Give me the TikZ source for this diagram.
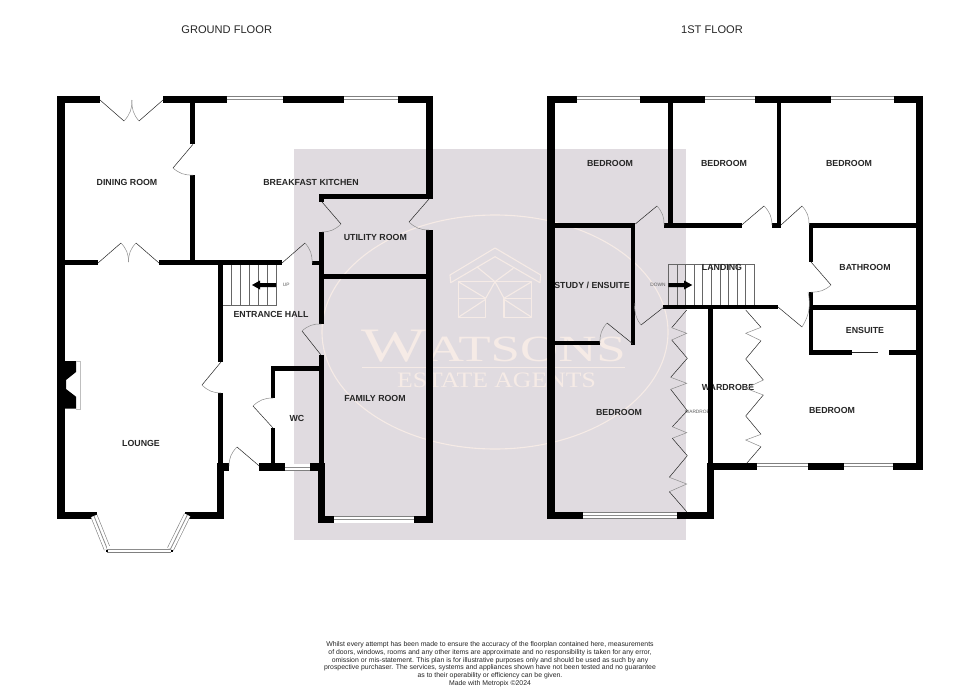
\documentclass[tikz,border=0pt]{standalone}
\usepackage{fontspec}
\setmainfont{Liberation Sans}
\newfontfamily\markfont{Liberation Serif}
\definecolor{markbg}{HTML}{E0DBE0}
\definecolor{markline}{HTML}{F6EBE6}
\tikzset{
	wall/.style={fill=black},
	leaf/.style={draw=black!85,line width=0.5pt},
	swing/.style={draw=black!45,line width=0.5pt},
	window/.style={preaction={draw=black!50,line width=7pt},preaction={draw=white,line width=5.8pt},draw=black!45,line width=0.8pt},
	tread/.style={draw=black!60,line width=0.5pt},
	room/.style={font=\fontsize{8.8}{9}\selectfont\bfseries,text=black!85,inner sep=0pt},
	title/.style={font=\fontsize{11.1}{12}\selectfont,text=black!85,inner sep=0pt},
	tiny/.style={font=\fontsize{4.8}{5}\selectfont,text=black!65,inner sep=0pt},
	logo/.style={draw=markline,line width=1.1pt,line join=round},
}
\newcommand{\door}[4]{\draw[leaf] (#1) -- (#2); \draw[swing] (#2) to[bend #4=22] (#3);}
\begin{document}
\begin{tikzpicture}[x=1pt,y=-1pt]
	\useasboundingbox (0,0) rectangle (980,688);
	\fill[white] (0,0) rectangle (980,688);
	\fill[markbg] (294,149) rectangle (686,540);
	\draw[logo] (495,332) ellipse (173 and 117);
	\draw[logo] (495,248) -- (540.7,275) -- (540,282.7) -- (495,256.7) -- (450.7,282.7) -- (450,275) -- cycle;
	\draw[logo] (458.3,281.7) -- (458.3,317.3) -- (485.7,317.3) -- (485.7,298.3) -- (458.3,298.3);
	\draw[logo] (458.3,281.7) -- (531.7,281.7) -- (531.7,317.3) -- (504,317.3) -- (504,298.3) -- (531.7,298.3);
	\draw[logo] (458.3,281.7) -- (485.7,298.3) -- (495,281.7) -- (504,298.3) -- (531.7,281.7);
	\draw[logo] (458.3,317.3) -- (485.7,299.3);
	\draw[logo] (531.7,317.3) -- (504,299.3);
	\draw[logo] (476.7,266.7) -- (495,281.7) -- (513.3,268.3);
	\node[text=markline,inner sep=0pt,anchor=base] (brand) at (493.5,361.7) {\markfont\scalebox{1.43}[1]{\fontsize{48}{48}\selectfont W\fontsize{37}{37}\selectfont ATSONS}};
	\draw[draw=markline,line width=0.5pt] (362,367.3) -- (625,367.3);
	\node[text=markline,inner sep=0pt,anchor=base] (agents) at (496.5,387) {\markfont\scalebox{1.17}[1]{\fontsize{22}{22}\selectfont ESTATE AGENTS}};

	\node[title] (ground) at (226.7,29.3) {GROUND FLOOR};
	\node[title] (first) at (712,29.3) {1ST FLOOR};

	\draw[tread] (222.7,265) -- (222.7,305) -- (276.7,305) -- (276.7,265);
	\draw[tread] (231.3,265) -- (231.3,305);
	\draw[tread] (240.3,265) -- (240.3,305);
	\draw[tread] (249.3,265) -- (249.3,305);
	\draw[tread] (258.3,265) -- (258.3,305);
	\draw[tread] (267.3,265) -- (267.3,305);
	\draw[tread] (668.3,305) -- (668.3,264.3) -- (754.3,264.3) -- (754.3,305);
	\draw[tread] (677,264.3) -- (677,305);
	\draw[tread] (685.7,264.3) -- (685.7,305);
	\draw[tread] (694,264.3) -- (694,305);
	\draw[tread] (702.7,264.3) -- (702.7,305);
	\draw[tread] (711.3,264.3) -- (711.3,305);
	\draw[tread] (720,264.3) -- (720,305);
	\draw[tread] (728.7,264.3) -- (728.7,305);
	\draw[tread] (737,264.3) -- (737,305);
	\draw[tread] (745.7,264.3) -- (745.7,305);
	\fill[wall] (276,283) -- (260,283) -- (260,280.5) -- (252,285) -- (260,289.5) -- (260,287) -- (276,287) -- cycle;
	\fill[wall] (668.3,283) -- (684,283) -- (684,280.5) -- (692.3,285) -- (684,289.5) -- (684,287) -- (668.3,287) -- cycle;

	\node[room] (dining) at (127,182) {DINING ROOM};
	\node[room] (kitchen) at (311,182) {BREAKFAST KITCHEN};
	\node[room] (utility) at (375.3,237) {UTILITY ROOM};
	\node[room] (hall) at (271,314) {ENTRANCE HALL};
	\node[room] (lounge) at (141,443) {LOUNGE};
	\node[room] (wc) at (297,418) {WC};
	\node[room] (family) at (375,398) {FAMILY ROOM};
	\node[room] (bedA) at (610,163) {BEDROOM};
	\node[room] (bedB) at (724,163) {BEDROOM};
	\node[room] (bedC) at (849,163) {BEDROOM};
	\node[room] (landing) at (722,267) {LANDING};
	\node[room] (bathroom) at (865,267) {BATHROOM};
	\node[room] (study) at (592,285) {STUDY / ENSUITE};
	\node[room] (ensuite) at (865,330.5) {ENSUITE};
	\node[room] (robeB) at (728,387.5) {WARDROBE};
	\node[room] (bedD) at (832,410) {BEDROOM};
	\node[room] (bedE) at (619,412) {BEDROOM};
	\node[tiny] (robeA) at (699,412) {WARDROBE};
	\node[tiny] (up) at (286.3,285) {UP};
	\node[tiny] (down) at (658,285) {DOWN};

	\fill[wall] (57,96) rectangle (100,103.3);
	\fill[wall] (163,96) rectangle (226.7,103.3);
	\fill[wall] (283,96) rectangle (344,103.3);
	\fill[wall] (398,96) rectangle (432.7,103.3);
	\fill[wall] (57,96) rectangle (64.7,519);
	\fill[wall] (425.7,96) rectangle (432.7,199.3);
	\fill[wall] (425.7,230) rectangle (432.7,523.3);
	\fill[wall] (190.3,100) rectangle (195,144.3);
	\fill[wall] (190.3,175) rectangle (195,265);
	\fill[wall] (65,260) rectangle (98,265.3);
	\fill[wall] (159,260) rectangle (281.7,265.3);
	\fill[wall] (312.3,260.5) rectangle (319,265.3);
	\fill[wall] (318.7,194) rectangle (432.7,199.3);
	\fill[wall] (318.7,194) rectangle (324,202);
	\fill[wall] (322,274) rectangle (428,279.3);
	\fill[wall] (318.7,231.7) rectangle (324,324);
	\fill[wall] (318.7,355) rectangle (324,463);
	\fill[wall] (317.7,463) rectangle (324.7,523.3);
	\fill[wall] (218.3,263) rectangle (222.7,362);
	\fill[wall] (218.3,393) rectangle (222.7,463);
	\fill[wall] (216.7,463) rectangle (224,519);
	\fill[wall] (224,463) rectangle (229,470.7);
	\fill[wall] (57,512) rectangle (96.7,519);
	\fill[wall] (185,512) rectangle (224,519);
	\fill[wall] (259.3,463) rectangle (285.3,470.7);
	\fill[wall] (310,463) rectangle (324,470.7);
	\fill[wall] (270.7,365.7) rectangle (275,398);
	\fill[wall] (270.7,428) rectangle (275,465);
	\fill[wall] (270.7,365.7) rectangle (320,370.7);
	\fill[wall] (317.7,516) rectangle (334,523.3);
	\fill[wall] (414,516) rectangle (432.7,523.3);
	\fill[wall] (64.7,361) -- (76,361) -- (76,372) -- (66,380) -- (66,389) -- (76,396.7) -- (76,408.7) -- (64.7,408.7) -- cycle;
	\draw[draw=black!25,line width=0.4pt] (76,361) -- (80,361) -- (80,408.7) -- (76,408.7);
	\draw[window] (226.7,99.7) -- (283,99.7);
	\draw[window] (344,99.7) -- (398,99.7);
	\draw[window] (285.3,467) -- (310,467);
	\draw[window] (334,519.7) -- (414,519.7);
	\draw[window] (94,516) -- (107.3,549);
	\draw[window] (107.3,549) -- (170.5,549);
	\draw[window] (187.3,515) -- (170.5,549);
	\fill[wall] (105.5,549.5) rectangle (108,552);
	\fill[wall] (170.5,549.5) rectangle (173,552);

	\door{100,100}{124,121}{132,100}{right}
	\door{163,100}{139,121}{132,100}{left}
	\door{193,144.3}{173,168}{193,175}{right}
	\door{98,263}{121,243}{128.5,262}{left}
	\door{159,263}{136,243}{128.5,262}{right}
	\door{282,263}{305,243}{312,263}{left}
	\door{322,202}{341,224}{322,232}{left}
	\door{429,199}{409,222}{429,230}{right}
	\door{321,355}{302,331}{321,324}{left}
	\door{221,362}{202,385}{221,393}{right}
	\door{273,428}{253,406}{273,398}{left}
	\door{259.3,466}{237,447}{229,466}{right}

	\fill[wall] (547.3,96) rectangle (576.7,103.3);
	\fill[wall] (640,96) rectangle (705,103.3);
	\fill[wall] (755,96) rectangle (831,103.3);
	\fill[wall] (893.7,96) rectangle (922.7,103.3);
	\fill[wall] (547.3,96) rectangle (554.7,519);
	\fill[wall] (915.7,96) rectangle (922.7,470.3);
	\fill[wall] (668,100) rectangle (672.7,225);
	\fill[wall] (776.7,100) rectangle (781,225);
	\fill[wall] (555,223.3) rectangle (635.3,227.7);
	\fill[wall] (664,223.3) rectangle (741.7,227.7);
	\fill[wall] (772,223.3) rectangle (781,227.7);
	\fill[wall] (809,223.3) rectangle (916,227.7);
	\fill[wall] (809,225) rectangle (813.3,261.7);
	\fill[wall] (809,292.3) rectangle (813.3,355);
	\fill[wall] (809,305) rectangle (916,310);
	\fill[wall] (809,350.3) rectangle (852.3,355);
	\fill[wall] (889,350.3) rectangle (916,355);
	\fill[wall] (630.7,225) rectangle (635,345);
	\fill[wall] (555,340.7) rectangle (600,345);
	\fill[wall] (663,305) rectangle (778.3,309.3);
	\fill[wall] (708.3,308) rectangle (712.7,464);
	\fill[wall] (706.7,463.3) rectangle (756.7,470.3);
	\fill[wall] (808.3,463.3) rectangle (844,470.3);
	\fill[wall] (893,463.3) rectangle (922.7,470.3);
	\fill[wall] (706.7,463.3) rectangle (714,519);
	\fill[wall] (547.3,511.7) rectangle (583,519);
	\fill[wall] (677,511.7) rectangle (714,519);
	\draw[window] (576.7,99.7) -- (640,99.7);
	\draw[window] (705,99.7) -- (755,99.7);
	\draw[window] (831,99.7) -- (893.7,99.7);
	\draw[window] (756.7,466.8) -- (808.3,466.8);
	\draw[window] (844,466.8) -- (893,466.8);
	\draw[window] (583,515.4) -- (677,515.4);

	\door{635.3,224}{657,206}{664,225}{left}
	\door{741.7,225}{764,206}{772,225}{left}
	\door{781,225}{802,206}{809,225}{left}
	\door{811,262}{831,285}{811,292}{left}
	\door{664,307}{641,325}{635,303}{left}
	\door{778,307}{802,327}{808,292}{right}
	\door{633,344}{607,323}{600,343}{right}
	\draw[leaf] (852.3,352.7) -- (877.7,352.7);

	\draw[leaf] (686.7,310) -- (671.7,327.7);
	\draw[swing] (671.7,327.7) -- (686.7,333.3) -- (671.7,340);
	\draw[leaf] (671.7,340) -- (687.3,358.3) -- (670.7,377.3);
	\draw[swing] (670.7,377.3) -- (686.7,383.3) -- (670.7,389.3);
	\draw[leaf] (670.7,389.3) -- (687.3,410.7) -- (672.3,426.7);
	\draw[swing] (672.3,426.7) -- (686.7,432.7) -- (672.3,438.3);
	\draw[leaf] (672.3,438.3) -- (687.3,455.7) -- (669.3,477.3);
	\draw[swing] (669.3,477.3) -- (686.7,484) -- (669.3,491.7);
	\draw[leaf] (669.3,491.7) -- (686.7,511.7);
	\draw[leaf] (745.7,310) -- (761,327.3);
	\draw[swing] (761,327.3) -- (745.7,333.3) -- (761,340.7);
	\draw[leaf] (761,340.7) -- (745.7,359) -- (763.3,380);
	\draw[swing] (763.3,380) -- (745.7,388.3) -- (763.3,395);
	\draw[leaf] (763.3,395) -- (745.7,416) -- (761,434.3);
	\draw[swing] (761,434.3) -- (745.7,440) -- (761,446.7);
	\draw[leaf] (761,446.7) -- (746.7,463.3);

	\node[font=\fontsize{6.88}{7.7}\selectfont,text=black!85,align=center,inner sep=0pt,anchor=north] (note) at (490,641.5) {Whilst every attempt has been made to ensure the accuracy of the floorplan contained here, measurements\\of doors, windows, rooms and any other items are approximate and no responsibility is taken for any error,\\omission or mis-statement. This plan is for illustrative purposes only and should be used as such by any\\prospective purchaser. The services, systems and appliances shown have not been tested and no guarantee\\as to their operability or efficiency can be given.\\Made with Metropix \textcopyright 2024};
\end{tikzpicture}
\end{document}
